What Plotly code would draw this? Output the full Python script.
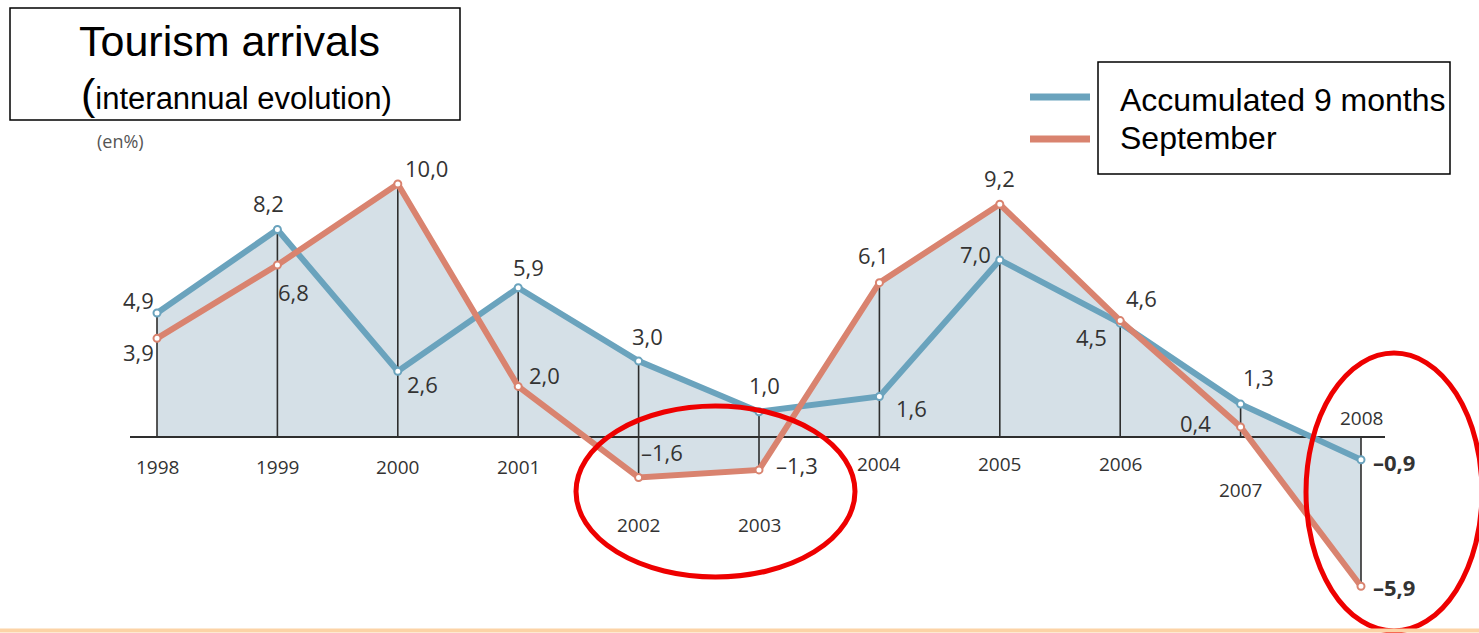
import plotly.graph_objects as go

# Interannual evolution of tourist arrivals (%)
years = [1998, 1999, 2000, 2001, 2002, 2003, 2004, 2005, 2006, 2007, 2008]
accumulated_9m = [4.9, 8.2, 2.6, 5.9, 3.0, 1.0, 1.6, 7.0, 4.5, 1.3, -0.9]
september = [3.9, 6.8, 10.0, 2.0, -1.6, -1.3, 6.1, 9.2, 4.6, 0.4, -5.9]
year_labels = [str(y) for y in years]
series_names = ["Accumulated 9 months", "September"]

W, H = 1479, 633
BLUE = "#6aa3bd"
ORANGE = "#d9836f"
FILL = "#d5e0e7"
INK = "#333333"

# pixel geometry of the plotting frame
X0_PX, DX_PX = 157, 120.4      # px of first year, px per year
Y0_PX, DY_PX = 437, 25.3       # px of zero line, px per percentage point
x_range = [years[0] - X0_PX / DX_PX, years[0] + (W - X0_PX) / DX_PX]
y_range = [-(H - Y0_PX) / DY_PX, Y0_PX / DY_PX]


def px_x(p):
    return p / W


def px_y(p):
    return 1 - p / H


def fmt(v, bold=False):
    s = f"{abs(v):.1f}".replace(".", ",")
    if v < 0:
        s = "\u2013" + s
    return f"<b>{s}</b>" if bold else s


fig = go.Figure()

# shaded area: union of both series filled to zero (opaque fill)
for vals in (accumulated_9m, september):
    fig.add_trace(go.Scatter(
        x=years, y=vals, mode="lines", fill="tozeroy",
        fillcolor=FILL, line=dict(width=0, color=FILL),
        hoverinfo="skip", showlegend=False))

# vertical drop lines at each year spanning the shaded range
dx, dy = [], []
for x, a, b in zip(years, accumulated_9m, september):
    dx += [x, x, None]
    dy += [max(a, b, 0), min(a, b, 0), None]
fig.add_trace(go.Scatter(x=dx, y=dy, mode="lines",
                         line=dict(color="#2e2e2e", width=1.6),
                         hoverinfo="skip", showlegend=False))

# zero axis line
ax_left = years[0] - (X0_PX - 130) / DX_PX
ax_right = years[0] + (1385 - X0_PX) / DX_PX
fig.add_trace(go.Scatter(x=[ax_left, ax_right], y=[0, 0], mode="lines",
                         line=dict(color="#2e2e2e", width=2),
                         hoverinfo="skip", showlegend=False))

# the two series
for name, vals, col in ((series_names[0], accumulated_9m, BLUE),
                        (series_names[1], september, ORANGE)):
    fig.add_trace(go.Scatter(
        x=years, y=vals, mode="lines+markers", name=name,
        line=dict(color=col, width=6),
        marker=dict(size=7, color="white", line=dict(color=col, width=2)),
        showlegend=False))

annotations = []

# value labels (x shift, y shift in px)
blue_off = [(-19, 13), (-9, 27), (25, -13), (10, 21), (9, 25), (5, 27),
            (32, -11), (-24, 6), (-29, -14), (18, 27), (33, -2)]
orange_off = [(-19, -14), (16, -27), (29, 16), (26, 11), (23, 25), (38, 5),
              (-6, 28), (0, 26), (21, 23), (-45, 4), (33, -1)]
for vals, offs in ((accumulated_9m, blue_off), (september, orange_off)):
    for i, (x, v) in enumerate(zip(years, vals)):
        last = i == len(years) - 1
        annotations.append(dict(
            x=x, y=v, xref="x", yref="y", text=fmt(v, bold=last),
            showarrow=False, xshift=offs[i][0], yshift=offs[i][1],
            xanchor="center", yanchor="middle",
            font=dict(family="Open Sans", size=22, color=INK)))

# year labels under (or above) the zero line
year_shift = [-30, -30, -30, -30, -88, -88, -27, -27, -27, -53, 19]
for x, lab, ys in zip(years, year_labels, year_shift):
    annotations.append(dict(
        x=x, y=0, xref="x", yref="y", text=lab, showarrow=False,
        yshift=ys, xanchor="center", yanchor="middle",
        font=dict(family="Open Sans", size=19, color=INK)))

# title box texts
annotations += [
    dict(x=px_x(229), y=px_y(41), xref="paper", yref="paper",
         xanchor="center", yanchor="middle",
         text="Tourism arrivals", showarrow=False,
         font=dict(family="Liberation Sans", size=43, color="black")),
    dict(x=px_x(236), y=px_y(94), xref="paper", yref="paper",
         xanchor="center", yanchor="middle",
         text="<span style='font-size:43px'>(</span>interannual evolution)",
         showarrow=False,
         font=dict(family="Liberation Sans", size=31, color="black")),
    dict(x=px_x(120), y=px_y(141), xref="paper", yref="paper",
         xanchor="center", yanchor="middle",
         text="(en%)", showarrow=False,
         font=dict(family="Open Sans", size=18, color="#555555")),
]

# legend texts
annotations += [
    dict(x=px_x(1118), y=px_y(100), xref="paper", yref="paper",
         xanchor="left", yanchor="middle", text=series_names[0],
         showarrow=False,
         font=dict(family="Liberation Sans", size=32, color="black")),
    dict(x=px_x(1118), y=px_y(138), xref="paper", yref="paper",
         xanchor="left", yanchor="middle", text=series_names[1],
         showarrow=False,
         font=dict(family="Liberation Sans", size=32, color="black")),
]

shapes = [
    # title frame
    dict(type="rect", xref="paper", yref="paper",
         x0=px_x(10), x1=px_x(460), y0=px_y(120), y1=px_y(8),
         line=dict(color="black", width=1.5)),
    # legend frame
    dict(type="rect", xref="paper", yref="paper",
         x0=px_x(1098), x1=px_x(1450), y0=px_y(174), y1=px_y(62),
         line=dict(color="black", width=1.5)),
    # legend keys
    dict(type="line", xref="paper", yref="paper",
         x0=px_x(1030), x1=px_x(1090), y0=px_y(97), y1=px_y(97),
         line=dict(color=BLUE, width=7)),
    dict(type="line", xref="paper", yref="paper",
         x0=px_x(1030), x1=px_x(1090), y0=px_y(139), y1=px_y(139),
         line=dict(color=ORANGE, width=7)),
    # highlight ellipses
    dict(type="circle", xref="paper", yref="paper",
         x0=px_x(576), x1=px_x(855), y0=px_y(577), y1=px_y(406),
         line=dict(color="#ee0000", width=5)),
    dict(type="circle", xref="paper", yref="paper",
         x0=px_x(1306), x1=px_x(1482), y0=px_y(631), y1=px_y(353),
         line=dict(color="#ee0000", width=5)),
    # bottom rule
    dict(type="line", xref="paper", yref="paper",
         x0=0, x1=1, y0=px_y(630.5), y1=px_y(630.5),
         line=dict(color="#fcd3a6", width=4)),
]

fig.update_layout(
    width=W, height=H, autosize=False,
    margin=dict(l=0, r=0, t=0, b=0),
    paper_bgcolor="white", plot_bgcolor="white",
    xaxis=dict(range=x_range, visible=False, fixedrange=True),
    yaxis=dict(range=y_range, visible=False, fixedrange=True),
    annotations=annotations, shapes=shapes,
    showlegend=False,
)

fig.write_html("out.html")
